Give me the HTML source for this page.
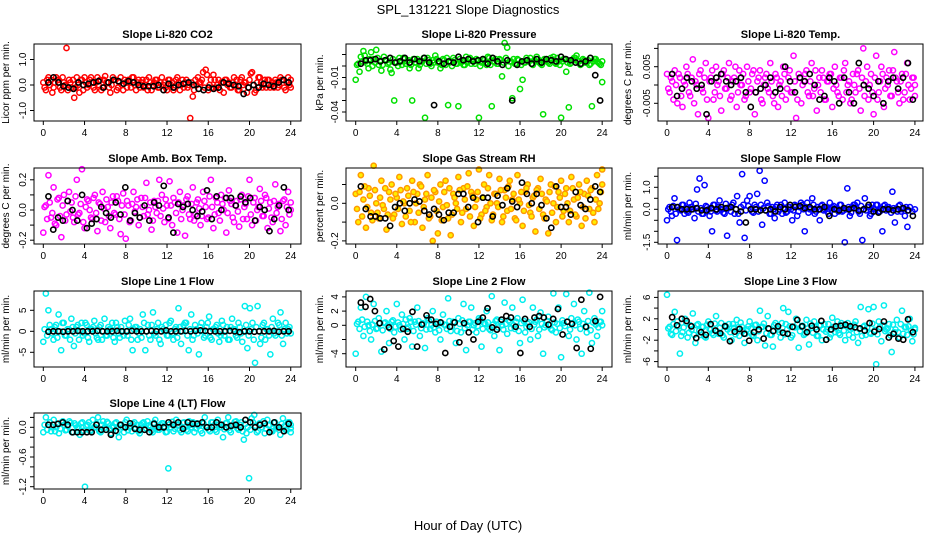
<!DOCTYPE html>
<html><head><meta charset="utf-8"><style>
body{margin:0;background:#fff;}
svg{display:block;font-family:"Liberation Sans",sans-serif;}
</style></head><body>
<svg id="chart" width="936" height="540" viewBox="0 0 936 540">
<text x="468" y="14" text-anchor="middle" font-size="13">SPL_131221  Slope Diagnostics</text>
<text x="468" y="530" text-anchor="middle" font-size="13">Hour of Day (UTC)</text>
</svg>
<script>
const xTicks=[0,4,8,12,16,20,24];
const co2C=[0.1,-0.2,0.3,0.2,-0.1,0.3,0.2,-0.2,0.1,1.45,0.2,-0.1,-0.5,0.3,-0.3,0.2,0.3,-0.1,0.2,0.1,-0.2,0.3,0.2,-0.1,0.35,0.1,-0.3,0.3,0.2,-0.1,0.3,-0.2,0.1,0.2,-0.1,0.3,-0.2,0.2,0.1,-0.1,0.2,0.3,-0.2,0.1,0.2,-0.1,0.3,0.1,-0.2,0.2,0.1,-0.1,0.3,-0.2,0.2,0.1,-0.1,-1.3,-0.45,0.2,0.3,0.1,0.5,0.6,-0.2,0.2,0.4,-0.1,0.2,0.1,-0.3,0.2,0.1,-0.1,0.3,0.2,-0.2,0.3,0.1,-0.3,0.2,0.5,-0.3,0.1,0.3,-0.1,0.2,0.2,-0.1,0.1,0.2,-0.1,0.3,0.2,-0.2,0.3,-0.1];
const co2C2=[-0.1,0.2,0.0,-0.3,0.1,0.2,-0.1,0.3,0.0,-0.2,0.1,0.2,-0.1,0.0,0.2,-0.2,0.1,0.0,0.3,-0.1,0.1,0.0,-0.2,0.2,0.1,-0.1,0.0,0.2,-0.2,0.1,0.0,0.2,-0.1,0.1,0.3,0.0,0.1,-0.1,0.2,0.0,-0.2,0.1,0.0,0.2,-0.1,0.1,0.0,-0.1,0.2,0.0,-0.2,0.2,0.1,0.0,-0.1,0.2,0.0,0.1,-0.2,0.0,0.1,0.2,-0.1,0.4,0.0,-0.1,0.2,0.0,-0.2,0.1,0.2,0.0,-0.1,0.1,0.0,-0.2,0.2,0.0,0.1,-0.1,0.45,0.0,-0.2,0.3,0.1,0.0,-0.1,0.2,0.0,-0.1,0.1,0.0,0.2,-0.1,0.1,0.0,0.2];
const co2K=[0.1,0.3,0.1,-0.05,-0.1,-0.15,0.1,0.0,0.05,0.1,0.15,-0.1,0.1,0.2,0.15,0.05,0.15,0.1,0.0,-0.05,-0.05,-0.05,0.0,-0.2,0.05,-0.1,0.0,0.05,0.1,0.0,-0.15,-0.2,-0.1,-0.15,-0.1,0.1,0.05,0.0,-0.05,-0.35,-0.1,0.0,-0.1,0.05,0.0,-0.05,0.1,0.2,0.1];
const pressC=[-0.012,0.002,0.008,0.013,0.004,-0.002,0.012,0.006,0.014,0.001,-0.004,0.008,0.005,0.003,-0.006,-0.03,0.003,0.007,0.001,0.006,0.004,-0.002,-0.03,0.003,0.006,0.001,0.004,-0.045,0.007,0.002,0.005,0.009,0.003,-0.002,0.006,0.001,-0.034,0.004,0.007,0.002,-0.035,0.003,0.001,0.008,0.006,0.002,0.004,0.006,-0.045,0.003,0.005,0.001,0.007,-0.035,0.004,0.002,0.006,-0.009,0.02,0.016,0.004,-0.028,0.002,0.006,-0.02,-0.012,0.003,0.005,0.007,0.001,0.004,0.006,0.002,-0.042,0.005,0.003,0.007,0.008,0.002,0.004,-0.045,0.006,-0.005,-0.036,0.003,0.007,0.009,0.004,0.002,0.005,0.003,0.001,-0.035,0.006,0.004,0.002,-0.014];
const pressC2=[0.001,-0.005,0.004,0.009,0.002,0.006,0.0,0.003,0.007,0.004,0.001,0.005,0.002,-0.003,0.006,0.003,0.0,0.004,0.007,0.002,0.005,0.001,0.006,0.003,-0.002,0.004,0.007,0.002,0.005,0.0,0.003,0.006,0.004,0.001,0.005,0.007,0.003,0.0,0.005,0.002,0.006,0.004,0.001,0.003,0.007,0.005,0.002,0.004,0.0,0.006,0.003,0.008,0.001,0.004,0.006,0.002,0.005,0.003,0.007,0.0,0.004,0.006,0.002,0.005,0.001,0.003,0.007,0.004,0.002,0.005,0.008,0.003,0.001,0.006,0.004,0.002,0.005,0.003,0.007,0.001,0.004,0.006,0.003,0.002,0.005,0.007,0.004,0.001,0.006,0.003,0.005,0.002,0.004,0.006,0.003,0.001,0.004];
const pressK=[0.002,0.005,0.005,0.006,0.004,0.005,0.007,0.003,0.004,0.007,0.003,0.006,0.004,0.007,0.003,-0.034,0.004,0.002,0.004,0.003,0.008,0.005,0.006,0.004,0.005,0.006,0.002,0.007,0.004,0.001,0.005,-0.03,0.001,0.004,0.005,0.002,0.006,0.003,0.006,0.005,0.004,0.008,0.006,0.005,0.003,0.002,0.004,0.007,-0.008,-0.03];
const tempC=[0.003,-0.002,0.001,0.004,-0.005,0.002,-0.006,0.000,0.003,-0.003,0.007,0.001,-0.008,0.004,-0.002,0.006,-0.009,0.002,-0.004,0.005,0.001,-0.007,0.004,-0.001,0.006,-0.003,0.002,-0.006,0.004,0.000,-0.004,0.005,-0.002,0.003,-0.008,0.001,0.004,-0.005,0.002,-0.001,0.006,-0.003,0.003,-0.006,0.001,0.005,-0.004,0.002,-0.002,0.008,-0.009,0.003,-0.005,0.001,0.004,-0.003,0.006,-0.001,-0.007,0.002,0.004,-0.004,0.001,0.003,-0.006,0.005,-0.002,0.002,-0.004,0.006,0.000,-0.005,0.003,-0.002,0.004,-0.007,0.010,0.001,-0.004,0.003,-0.008,0.008,-0.002,0.005,-0.006,0.002,0.004,-0.003,0.009,0.001,-0.005,0.003,-0.002,0.006,-0.004,0.002,0.000];
const tempC2=[-0.001,0.002,-0.004,0.000,0.003,-0.003,0.001,0.005,-0.002,0.002,-0.005,0.000,0.003,-0.001,0.002,-0.004,0.001,0.004,-0.002,0.000,-0.003,0.003,-0.001,0.002,-0.004,0.001,0.005,-0.002,0.000,0.003,-0.003,0.001,-0.001,0.004,-0.002,0.002,-0.004,0.000,0.003,-0.002,0.001,-0.005,0.002,0.000,-0.003,0.003,-0.001,0.004,-0.002,0.001,-0.004,0.002,0.000,0.003,-0.002,0.001,-0.003,0.004,0.000,-0.002,0.002,-0.004,0.001,0.003,-0.001,0.000,-0.003,0.002,0.004,-0.002,0.001,-0.004,0.000,0.003,-0.001,0.002,-0.003,0.005,0.000,-0.002,0.002,-0.004,0.001,0.003,-0.001,0.000,-0.003,0.004,0.002,-0.002,0.001,-0.004,0.003,0.000,-0.001,0.002,-0.003];
const tempK=[0.003,-0.003,-0.001,0.002,0.001,-0.001,0.000,-0.008,0.001,0.002,0.003,0.001,0.000,0.001,0.002,-0.002,-0.006,-0.002,-0.001,0.000,0.002,-0.002,-0.001,0.005,0.001,-0.002,0.002,0.001,0.003,0.000,-0.004,-0.003,0.002,0.001,-0.005,0.002,-0.002,-0.005,0.006,0.000,-0.001,-0.003,0.001,-0.005,0.001,0.002,-0.001,0.002,0.006,-0.004];
const ambC=[-0.15,0.03,0.23,-0.05,0.15,-0.1,0.08,-0.18,0.1,-0.03,0.12,0.05,-0.08,0.2,-0.02,0.27,-0.12,0.07,0.0,-0.06,0.1,-0.14,0.04,0.12,-0.08,0.02,-0.12,0.09,-0.03,0.06,-0.16,0.11,-0.19,0.03,-0.07,0.12,0.02,-0.1,0.08,-0.04,0.18,0.0,-0.13,0.06,-0.02,0.2,0.1,-0.08,0.03,0.19,-0.1,0.05,-0.15,0.12,0.0,-0.17,0.09,-0.06,0.15,-0.03,0.07,-0.1,0.12,0.02,-0.05,0.2,-0.12,0.08,-0.02,0.1,0.0,-0.15,0.13,0.04,-0.08,0.06,-0.11,0.1,0.02,-0.06,0.2,-0.1,0.08,0.0,0.14,-0.04,0.1,-0.12,0.05,-0.08,0.17,0.02,-0.14,0.06,-0.1,0.12,0.0];
const ambC2=[0.02,-0.06,0.05,-0.02,-0.09,0.07,-0.04,0.03,-0.07,0.06,-0.01,-0.05,0.09,-0.03,0.04,-0.08,0.02,0.06,-0.05,0.08,-0.02,0.05,-0.07,0.01,0.07,-0.04,0.05,-0.02,0.09,-0.06,0.03,-0.03,0.06,-0.08,0.04,-0.01,0.07,-0.05,0.02,0.08,-0.03,0.05,-0.07,0.02,0.06,-0.04,0.01,0.07,-0.06,0.03,0.08,-0.02,0.05,-0.06,0.03,0.07,-0.03,0.04,-0.07,0.05,0.01,-0.04,0.06,-0.06,0.09,0.02,-0.03,0.05,-0.07,0.04,0.08,-0.02,0.06,-0.05,0.03,-0.01,0.07,-0.06,0.04,0.09,-0.03,0.05,-0.07,0.02,0.06,-0.04,0.08,0.01,-0.05,0.06,-0.02,0.04,-0.06,0.07,0.02,-0.03,0.05];
const ambK=[0.09,-0.13,-0.05,-0.07,0.06,0.0,-0.07,0.1,-0.12,-0.09,-0.06,0.02,-0.02,-0.05,0.05,-0.03,0.15,-0.07,-0.02,-0.05,0.03,-0.07,0.05,0.03,0.16,-0.05,-0.15,0.04,0.02,0.04,0.0,-0.04,-0.01,0.13,-0.06,0.09,0.0,0.08,0.08,0.03,0.09,0.05,0.08,-0.07,0.02,0.0,-0.14,-0.06,0.03,0.15,0.0];
const rhC=[0.05,-0.1,0.15,0.02,-0.13,0.08,-0.05,0.2,0.0,-0.08,0.12,-0.03,-0.14,0.06,0.1,-0.06,0.03,0.14,-0.11,0.0,0.08,-0.04,0.12,-0.1,0.05,0.1,-0.13,0.02,0.15,-0.07,-0.2,0.06,-0.16,0.1,-0.02,0.12,-0.08,-0.17,0.05,0.0,0.14,-0.1,0.08,-0.03,0.16,0.06,-0.12,0.02,0.18,-0.06,0.1,-0.02,0.15,-0.09,0.05,0.0,0.13,-0.1,0.07,-0.04,0.12,0.02,-0.08,0.15,0.0,-0.12,0.06,0.1,-0.05,0.03,-0.15,0.08,0.13,-0.06,0.02,-0.16,0.1,0.0,-0.1,0.06,0.12,-0.04,0.08,-0.1,0.14,0.02,-0.07,0.1,-0.12,0.05,0.12,-0.03,0.08,-0.1,0.15,0.0,0.18];
const rhC2=[-0.03,0.06,-0.07,0.09,-0.02,0.04,-0.09,0.07,-0.05,0.03,-0.01,0.08,-0.06,0.02,-0.08,0.05,-0.03,0.07,0.01,-0.07,0.04,-0.1,0.06,0.0,-0.05,0.09,-0.02,0.05,-0.08,0.03,0.07,-0.04,0.01,-0.09,0.06,-0.01,0.08,-0.06,0.03,-0.03,0.07,-0.05,0.02,0.09,-0.07,0.04,-0.02,0.06,-0.08,0.03,-0.04,0.08,0.0,-0.06,0.05,-0.02,0.07,-0.07,0.03,0.09,-0.03,0.05,-0.09,0.02,0.06,-0.04,0.08,-0.01,-0.07,0.04,0.07,-0.03,0.05,-0.08,0.01,0.06,-0.05,0.09,-0.02,0.03,-0.07,0.05,0.0,-0.04,0.08,-0.06,0.03,0.06,-0.02,-0.08,0.04,0.07,-0.05,0.02,-0.03,0.06,0.1];
const rhK=[0.09,-0.03,-0.07,-0.07,-0.08,-0.08,-0.12,-0.02,0.0,-0.04,0.0,0.02,0.01,-0.04,-0.06,-0.03,-0.06,-0.09,-0.05,-0.05,0.05,0.05,-0.02,0.03,-0.1,0.03,0.03,-0.07,0.04,-0.01,0.08,0.01,-0.02,0.11,0.05,0.0,0.05,-0.01,-0.08,-0.13,0.09,-0.02,-0.02,-0.06,0.06,-0.01,-0.03,0.02,0.09,0.06];
const sampleC=[-0.5,0.1,-0.3,0.5,-1.4,0.0,0.2,-0.2,-0.1,0.3,0.1,-0.4,0.9,1.4,-0.2,1.1,0.1,-0.3,-1.0,0.2,-0.1,0.4,0.0,-0.2,-1.2,0.1,0.2,-0.2,0.6,-0.6,1.6,-1.3,0.4,0.6,-0.1,0.2,0.7,1.75,-0.7,1.3,0.3,-0.2,0.1,-0.4,0.2,0.0,-0.2,0.3,-0.1,0.1,-0.5,0.2,-0.3,0.1,0.2,-1.0,0.3,0.0,0.5,-0.2,0.1,-0.5,0.2,0.0,-0.1,0.3,0.1,-0.2,0.0,0.2,-0.1,-1.5,0.95,-0.3,0.1,0.2,0.3,-0.2,-1.4,0.5,0.1,-0.3,0.2,0.0,0.2,-0.1,-1.0,0.2,0.1,0.0,0.8,-0.6,-0.1,0.2,0.0,-0.3,-0.8,0.1,-0.1,0.0];
const sampleC2=[0.0,-0.1,0.15,-0.2,0.1,-0.05,0.2,0.05,-0.15,0.1,0.0,0.25,-0.1,0.05,-0.2,0.15,0.0,-0.1,0.2,-0.05,0.1,0.0,-0.15,0.25,0.05,-0.1,0.3,0.0,-0.2,0.1,0.2,-0.05,0.15,0.0,-0.15,0.1,-0.1,0.2,0.05,-0.05,0.15,-0.2,0.0,0.1,-0.1,0.2,0.05,-0.15,0.1,0.0,-0.05,0.15,-0.1,0.3,0.0,0.1,-0.15,0.05,0.2,-0.1,0.0,0.15,-0.05,0.1,-0.2,0.05,0.15,0.0,-0.1,0.2,-0.05,0.0,0.1,-0.15,0.2,0.05,-0.1,0.15,0.0,-0.05,0.1,-0.2,0.05,0.2,-0.1,0.0,0.15,-0.05,0.1,-0.15,0.05,0.0,0.15,-0.1,0.05,0.1,-0.05];
const sampleK=[0.1,0.1,0.0,0.0,0.0,0.05,-0.05,-0.05,0.05,0.0,0.1,0.05,0.1,0.0,-0.1,-0.6,0.0,0.0,-0.05,-0.05,0.0,-0.1,0.1,0.0,0.2,0.1,0.15,0.05,0.1,0.0,0.0,0.1,-0.3,0.0,-0.05,0.05,0.0,0.05,-0.05,0.0,0.2,-0.1,-0.15,0.0,0.0,-0.05,0.0,0.05,-0.05,-0.3];
const line1C=[-2.5,9,5,0.5,-2,1.5,4,-4.5,2,-1,0.5,3,-3.5,1,-2,2,-0.5,1.5,-2.5,0.5,2.5,-1.5,1,-2,3,-1,0.5,2,-2.5,1,-1.5,0,2.5,-1,3,-4.5,1,-2,0.5,4,-4.5,1.5,-2,4.5,-1,2,-3,0.5,1.5,-1,2.5,-2,1,5.5,-3,1.5,2,-4.5,4,-1,0.5,-5.5,2,-1.5,1,3.5,-2,0.5,1.5,-2.5,2.5,-1,1,-2,3,0.5,-1.5,1,-2.5,6,-4,5.5,2,-7.5,6,-3,1.5,-2,0.5,-5.5,3,-1,2,4.5,-3,2,0.5,-0.5];
const line1C2=[0.5,-1,1.5,-0.5,1,-1.5,0,2,-1,0.5,-2,1,-0.5,1.5,0,-1,2,-1.5,0.5,1,-0.5,-2,1.5,0,-1,1,0.5,-1.5,2,-0.5,1,-1,0,1.5,-2,0.5,1,-0.5,-1.5,2,0,-1,1.5,-0.5,0.5,-2,1,0,-1,2,-0.5,0.5,-1.5,1,0,2,-1,0.5,-2,1.5,-0.5,1,0,-1,2,-1.5,0.5,1,-0.5,-1,1.5,0,-2,1,0.5,-1,2,-0.5,0,1.5,-1,0.5,-2,1,0,-1.5,2,0.5,-1,1,-0.5,0,1.5,-1,0.5,-0.5,1];
const line1K=[-0.1,0,0,-0.1,0,0,0.1,0,0,0,0.1,0,0,0,0.1,0,0,0.1,0,0,0,0.1,0,0,0.2,0,0,0,0.1,0,0.1,0.2,0.1,0,0,0,0,0.1,0,-0.2,0,0,-0.1,0,0,0,0.1,-0.1,0,0];
const line2C=[-4,0.5,2.5,-1.5,4,0,-2,3,-0.5,1,-3.7,0.3,2,-2.5,0.5,-1,3,0,1.5,-2,-0.5,1,-3,0.5,2.5,-1.5,0.3,-3.2,1,-0.5,2,-1,0.2,-2,1.5,0,3.8,-0.8,0.5,-2.5,1,-1,3,-3.5,0.5,2.5,0,-1,1,-3,0.3,2,-0.5,4.1,-1.5,0.8,-3.5,0,3.2,-1.2,0.5,2.5,-0.5,1,-2.5,3.6,-1,0.2,-2,2.5,0.5,-1.5,1.8,-4,0,1.2,-0.5,4.5,-1,2.5,-4.5,0.3,4.4,-1.5,1,3,-2,0.5,-4,2,-1,4.6,-2.5,1,-1.5,0.5,2];
const line2C2=[0.2,-0.5,0.8,-0.2,0.5,-0.8,0.1,0.6,-0.4,0.3,-0.7,0.4,0.0,-0.5,0.7,-0.2,0.4,-0.6,0.2,0.8,-0.3,0.5,-0.8,0.1,0.6,-0.4,0.2,-0.6,0.7,0.0,-0.3,0.5,-0.7,0.3,0.1,-0.5,0.6,-0.2,0.4,-0.8,0.2,0.7,-0.4,0.0,0.5,-0.6,0.3,-0.1,0.8,-0.5,0.2,0.4,-0.7,0.1,0.6,-0.3,0.5,-0.6,0.2,0.7,-0.4,0.0,0.5,-0.8,0.3,0.6,-0.2,0.4,-0.5,0.1,0.8,-0.6,0.2,-0.3,0.6,0.0,-0.7,0.4,0.2,-0.4,0.7,-0.1,0.5,-0.6,0.3,0.0,0.8,-0.5,0.2,-0.2,0.6,-0.7,0.4,0.1,-0.3,0.5,0.0];
const line2K=[3.2,2.6,3.7,2.0,0.3,-3.4,-0.3,-2.2,-3,-0.5,-0.9,1.9,-3.0,0.1,1.4,0.8,0.2,0.4,-3.9,-0.2,0.4,-2.4,0.3,-1.0,-2.0,0.5,1.1,2.4,-0.3,-0.6,0.8,1.3,1.1,-0.2,-3.9,0.9,-0.2,1.1,1.3,1.1,0.1,0.9,2.3,-1.3,0.5,0.2,-3.2,3.6,-0.2,-3.3,0.6,4.0];
const line3C=[6.5,0.5,-1,3.3,1.5,-4.5,-0.5,2,-1.5,0.8,3,-2.5,1,-1,0.5,-1.5,1.5,0,-1,2.5,-0.8,1.2,-1.5,0.5,1,-2,0.3,1.8,-1.2,0.5,-2.5,0,1.5,-1,0.8,-2,3.5,0.5,-3,2.5,-1,-3.2,1.2,0,-1.5,4,1,3.3,-1.5,0.5,2,-3.4,0.5,-1,1.8,-2.8,0.3,1.5,-1.2,0.8,-2,1,0,-1.5,2.2,-0.5,1.5,-1,0.8,-2,1.2,0,-1.5,1.5,-2.5,4.2,0.5,-1,3.8,-0.8,4.2,-6.5,1.5,-2.2,4.5,0,1,-4.2,-0.5,1.8,-1.5,3.5,0.5,-1,2,-2.2,0];
const line3C2=[0.2,-0.8,1.0,-0.3,0.6,-1.2,0.4,1.2,-0.6,0.0,-1.0,0.8,-0.2,0.5,-1.3,0.9,0.1,-0.7,1.1,-0.4,0.3,-1.1,0.7,0.0,-0.5,1.0,-0.9,0.4,1.3,-0.2,-0.8,0.6,0.2,-1.2,0.9,-0.3,0.5,1.1,-0.7,0.1,-1.0,0.8,0.3,-0.5,1.2,-0.9,0.0,0.6,-1.1,0.4,1.0,-0.3,0.7,-0.8,0.2,1.1,-0.6,0.4,-1.2,0.8,0.0,-0.4,1.0,-0.9,0.5,0.2,-0.7,1.2,-0.2,0.6,-1.0,0.3,0.9,-0.5,0.1,-1.2,0.7,0.4,-0.6,1.1,-0.1,-0.9,0.5,0.8,-0.3,0.2,-1.1,0.9,0.0,-0.5,1.0,-0.8,0.4,0.6,-0.2,-0.9,0.3];
const line3K=[2.3,0.8,2.0,1.6,0.6,-1.6,-0.5,-1.0,1.0,-0.2,-0.7,0.6,-2.2,-0.4,0.1,-0.8,-2.1,-0.5,0.0,-1.7,0.2,-0.3,0.6,-0.6,-0.8,0.5,1.8,0.6,-0.5,0.7,0.0,1.6,-1.9,0.0,0.6,0.7,0.9,0.6,0.4,0.2,-0.2,1.2,-0.4,0.1,1.5,-1.5,-0.8,-1.7,-1.9,1.9,-0.5];
const line4C=[-0.1,0.2,0.05,-0.08,0.15,0.0,-0.12,0.1,0.05,-0.05,0.12,-0.1,0.08,0.0,-0.15,0.1,-1.2,0.05,-0.08,0.15,0.0,0.2,-0.1,0.12,-0.05,0.08,-0.12,0.0,0.1,-0.2,0.05,-0.1,0.15,0.0,-0.08,0.1,0.05,-0.12,0.08,-0.05,0.12,0.0,-0.1,0.15,-0.05,0.05,0.08,-0.1,-0.83,0.0,-0.08,0.15,0.05,-0.1,0.1,-0.05,0.12,0.0,-0.1,0.08,0.05,-0.12,0.2,0.0,-0.08,0.1,-0.05,0.15,0.0,-0.2,0.08,0.2,-0.1,0.05,0.12,-0.05,0.1,-0.25,-0.12,-1.03,0.18,0.25,-0.1,0.08,0.0,-0.12,0.15,0.05,-0.08,0.1,0.0,-0.15,0.18,-0.05,0.1,-0.1];
const line4C2=[0.05,-0.05,0.1,0.0,-0.08,0.06,-0.03,0.12,-0.06,0.02,0.09,-0.1,0.04,-0.02,0.08,-0.07,0.03,0.1,-0.05,0.0,0.07,-0.08,0.05,-0.01,0.11,-0.04,0.02,0.08,-0.09,0.04,0.0,0.1,-0.06,0.03,0.07,-0.03,-0.08,0.05,0.1,-0.02,0.04,-0.07,0.09,0.0,-0.05,0.08,0.02,-0.09,0.06,0.11,-0.03,0.04,-0.06,0.09,0.0,-0.08,0.05,0.1,-0.02,0.03,-0.07,0.08,0.01,-0.05,0.1,0.04,-0.09,0.06,0.0,-0.04,0.09,-0.06,0.03,0.11,-0.02,0.05,-0.08,0.07,0.0,-0.05,0.1,0.03,-0.07,0.06,0.12,-0.03,0.04,-0.08,0.09,0.0,-0.05,0.07,0.02,-0.06,0.1,-0.02,0.05];
const line4K=[0.05,0.05,0.07,0.1,0.05,-0.1,-0.1,-0.1,-0.1,-0.1,0.05,-0.05,-0.05,-0.15,-0.07,0.05,0.0,0.08,-0.03,-0.05,-0.05,-0.1,0.07,0.0,0.0,0.1,0.05,0.1,-0.03,0.1,0.07,0.07,0.1,0.0,0.0,0.1,0.05,0.0,0.03,0.05,0.0,0.15,0.1,0.0,0.05,0.08,-0.1,0.1,0.0,-0.08,0.07];

const co2Ticks=[1.0,0.0,-1.0], co2Labels=["1.0","0.0","-1.0"];
const pressTicks=[0.01,0,-0.01,-0.02,-0.03,-0.04], pressLabels=["","","-0.01","","","-0.04"];
const tempTicks=[0.01,0.005,0,-0.005], tempLabels=["","0.005","","-0.005"];
const ambTicks=[0.2,0.1,0,-0.1,-0.2], ambLabels=["0.2","","0.0","","-0.2"];
const rhTicks=[0.1,0,-0.1,-0.2], rhLabels=["","0.0","","-0.2"];
const sampleTicks=[1.5,1.0,0.5,0,-0.5,-1.0,-1.5], sampleLabels=["","1.0","","0.0","","","-1.5"];
const line1Ticks=[5,0,-5], line1Labels=["5","0","-5"];
const line2Ticks=[4,2,0,-2,-4], line2Labels=["4","2","0","","-4"];
const line3Ticks=[6,4,2,0,-2,-4,-6], line3Labels=["6","","2","","-2","","-6"];
const line4Ticks=[0.2,0,-0.2,-0.4,-0.6,-0.8,-1.0,-1.2], line4Labels=["","0.0","","","-0.6","","","-1.2"];

const NS="http://www.w3.org/2000/svg";
const svg=document.getElementById('chart');
const cols=[{x0:43.3,k:10.31,l:34,r:301,yl:9},{x0:355.7,k:10.27,l:346,r:612,yl:323},{x0:667,k:10.33,l:658,r:923,yl:631}];
const rows=[{t:44,b:121},{t:168,b:244},{t:291,b:367},{t:413,b:489}];
function mk(tag,attrs,parent){const e=document.createElementNS(NS,tag);for(const a in attrs)e.setAttribute(a,attrs[a]);(parent||svg).appendChild(e);return e;}
const panels=[
 {c:0,r:0,title:"Slope Li-820 CO2",ylab:"Licor ppm per min.",z:85,ky:25.5,col:"#ff0000",fill:"none",data:co2C,data2:co2C2,ref:co2K,ticks:co2Ticks,labels:co2Labels,name:"co2"},
 {c:1,r:0,title:"Slope Li-820 Pressure",ylab:"kPa per min.",z:66,ky:1150,col:"#00e000",fill:"none",data:pressC,data2:pressC2,ref:pressK,ticks:pressTicks,labels:pressLabels,name:"pressure"},
 {c:2,r:0,title:"Slope Li-820 Temp.",ylab:"degrees C per min.",z:85,ky:3660,col:"#ff00ff",fill:"none",data:tempC,data2:tempC2,ref:tempK,ticks:tempTicks,labels:tempLabels,name:"li820-temp"},
 {c:0,r:1,title:"Slope Amb. Box Temp.",ylab:"degrees C per min.",z:210,ky:151,col:"#ff00ff",fill:"none",data:ambC,data2:ambC2,ref:ambK,ticks:ambTicks,labels:ambLabels,name:"amb-box-temp"},
 {c:1,r:1,title:"Slope Gas Stream RH",ylab:"percent per min.",z:203.3,ky:188,col:"#ff9900",fill:"#ffee00",data:rhC,data2:rhC2,ref:rhK,ticks:rhTicks,labels:rhLabels,name:"gas-stream-rh"},
 {c:2,r:1,title:"Slope Sample Flow",ylab:"ml/min per min.",z:209.3,ky:22,col:"#0000ff",fill:"none",data:sampleC,data2:sampleC2,ref:sampleK,ticks:sampleTicks,labels:sampleLabels,name:"sample-flow"},
 {c:0,r:2,title:"Slope Line 1 Flow",ylab:"ml/min per min.",z:331.3,ky:4.2,col:"#00eeee",fill:"none",data:line1C,data2:line1C2,ref:line1K,ticks:line1Ticks,labels:line1Labels,name:"line1-flow"},
 {c:1,r:2,title:"Slope Line 2 Flow",ylab:"ml/min per min.",z:325.3,ky:7.1,col:"#00eeee",fill:"none",data:line2C,data2:line2C2,ref:line2K,ticks:line2Ticks,labels:line2Labels,name:"line2-flow"},
 {c:2,r:2,title:"Slope Line 3 Flow",ylab:"ml/min per min.",z:329.5,ky:5.35,col:"#00eeee",fill:"none",data:line3C,data2:line3C2,ref:line3K,ticks:line3Ticks,labels:line3Labels,name:"line3-flow"},
 {c:0,r:3,title:"Slope Line 4 (LT) Flow",ylab:"ml/min per min.",z:427.3,ky:49.5,col:"#00eeee",fill:"none",data:line4C,data2:line4C2,ref:line4K,ticks:line4Ticks,labels:line4Labels,name:"line4-flow"}
];
panels.forEach(p=>{
  const C=cols[p.c],R=rows[p.r];
  const g=mk('g',{});
  
  
  const xs=h=>C.x0+h*C.k, ys=v=>p.z-v*p.ky;
  const pts=mk('g',{},g);
  const step=24/(p.data.length-1);
  p.data.forEach((v,i)=>{const h=i*step;
    const e=mk('circle',{cx:xs(h),cy:ys(v),r:2.6,fill:p.fill,stroke:p.col,'stroke-width':1.5},pts);
    
    });
  p.data2.forEach((v,i)=>{const h=Math.min(24,i*step+step/2);
    const e=mk('circle',{cx:xs(h),cy:ys(v),r:2.6,fill:p.fill,stroke:p.col,'stroke-width':1.5},pts);
    
    });
  p.ref.forEach((v,i)=>{const h=0.5+i*23.3/(p.ref.length-1);
    const e=mk('circle',{cx:xs(h),cy:ys(v),r:2.6,fill:'none',stroke:'#000','stroke-width':1.6},pts);
    
    });
  const box=mk('rect',{x:C.l,y:R.t,width:C.r-C.l,height:R.b-R.t,fill:'none',stroke:'#000','stroke-width':1},g);
  
  
  const t=mk('text',{x:(C.l+C.r)/2,y:R.t-6,'text-anchor':'middle','font-size':11,'font-weight':'bold'},g);t.textContent=p.title;
  
  
  xTicks.forEach(h=>{const x=xs(h);mk('line',{x1:x,x2:x,y1:R.b,y2:R.b+4,stroke:'#000'},g);
    const l=mk('text',{x:x,y:R.b+15,'text-anchor':'middle','font-size':10},g);l.textContent=h;
    
    });
  p.ticks.forEach((v,i)=>{const y=ys(v);mk('line',{x1:C.l-4,x2:C.l,y1:y,y2:y,stroke:'#000'},g);
    if(p.labels[i]){const lx=C.l-8;const l=mk('text',{x:lx,y:y,'text-anchor':'middle','font-size':10,transform:'rotate(-90 '+lx+' '+y+')'},g);l.textContent=p.labels[i];
    
    }});
  const cy=(R.t+R.b)/2;
  const yl=mk('text',{x:C.yl,y:cy,'text-anchor':'middle','font-size':10,transform:'rotate(-90 '+C.yl+' '+cy+')'},g);yl.textContent=p.ylab;
  
  
});
</script>
</body></html>
